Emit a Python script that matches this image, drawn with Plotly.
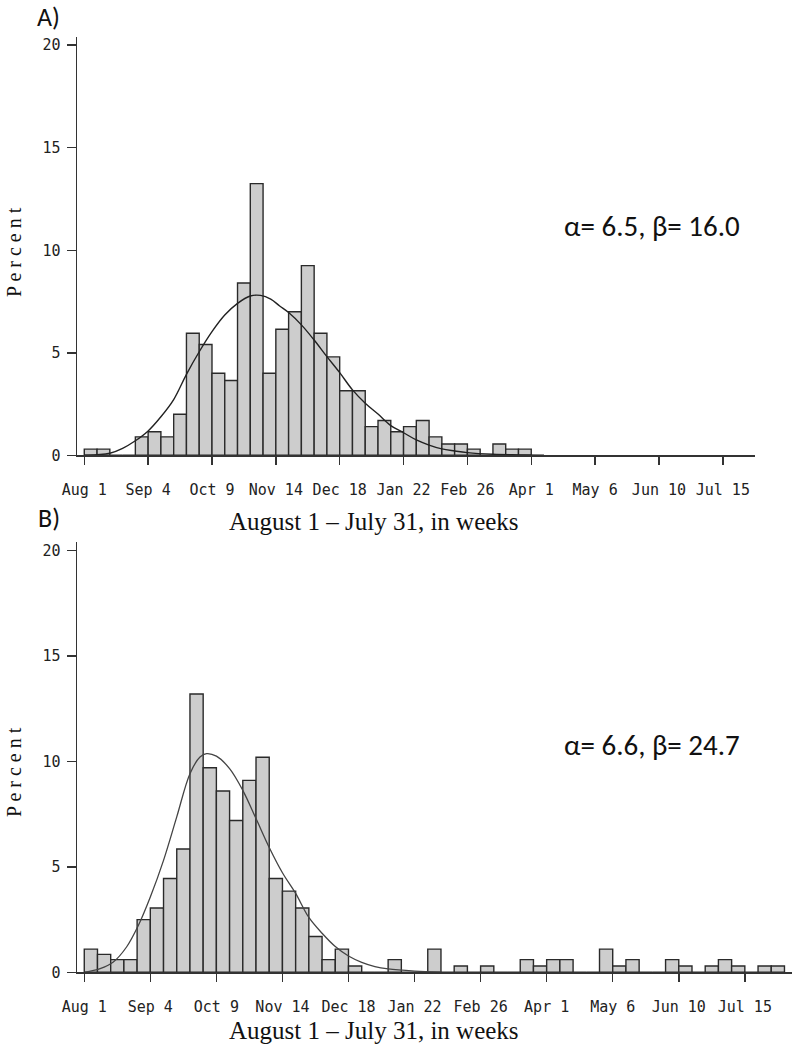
import plotly.graph_objects as go

# ---------------- data ----------------
week_tickvals = [0, 5, 10, 15, 20, 25, 30, 35, 40, 45, 50]
week_ticktext = ["Aug 1", "Sep 4", "Oct 9", "Nov 14", "Dec 18", "Jan 22",
                 "Feb 26", "Apr 1", "May 6", "Jun 10", "Jul 15"]
pct_tickvals = [0, 5, 10, 15, 20]

# Panel A: weekly percentages (week 0 = Aug 1)
pct_A = [0.3, 0.3, 0, 0, 0.9, 1.15, 0.9, 2.0, 5.95, 5.4,
         4.0, 3.65, 8.4, 13.25, 4.0, 6.15, 7.0, 9.25, 5.95, 4.8,
         3.15, 3.15, 1.4, 1.7, 1.15, 1.4, 1.7, 0.9, 0.55, 0.55,
         0.3, 0, 0.55, 0.3, 0.3]
# fitted curve A
curve_A_x = [0, 1, 2, 3, 4, 5, 6, 7, 8, 9, 10, 11, 12, 13, 13.8, 14.6, 15.3,
             16, 17, 18, 19, 20, 21, 22, 23, 24, 25, 26, 27, 28, 29, 30, 32, 34, 36]
curve_A_y = [0, 0.03, 0.1, 0.34, 0.71, 1.19, 1.88, 2.72, 3.95, 5.05, 6.03, 6.84, 7.41,
             7.77, 7.8, 7.62, 7.28, 6.96, 6.36, 5.62, 4.81, 4.03, 3.19, 2.54, 2.01,
             1.45, 1.1, 0.75, 0.5, 0.31, 0.21, 0.13, 0.05, 0.02, 0]

# Panel B
pct_B = [1.1, 0.85, 0.6, 0.6, 2.5, 3.05, 4.45, 5.85, 13.2, 9.7,
         8.6, 7.2, 9.1, 10.2, 4.45, 3.85, 3.05, 1.7, 0.6, 1.1,
         0.3, 0, 0, 0.6, 0, 0, 1.1, 0, 0.3, 0,
         0.3, 0, 0, 0.6, 0.3, 0.6, 0.6, 0, 0, 1.1,
         0.3, 0.6, 0, 0, 0.6, 0.3, 0, 0.3, 0.6, 0.3,
         0, 0.3, 0.3]
curve_B_x = [0, 1.2, 2.2, 3.2, 4.1, 5, 6, 7, 8, 8.76, 9.26, 10, 11, 12, 13, 14, 15,
             16, 17, 18, 19, 20, 21, 22, 23, 25, 27]
curve_B_y = [0, 0.17, 0.49, 1.2, 2.23, 3.57, 5.31, 7.37, 9.42, 10.21, 10.37, 10.25,
             9.66, 8.63, 7.29, 5.92, 4.72, 3.74, 2.6, 1.85, 1.22, 0.77, 0.47, 0.27,
             0.16, 0.06, 0.01]

label_A = "α= 6.5, β= 16.0"
label_B = "α= 6.6, β= 24.7"

# ---------------- figure ----------------
W, H = 792, 1050
def fx(p):
    return p / W
def fy(p):
    return 1 - p / H

bar_fill = "#cdcdcd"
edge = "#2a2a2a"
tick_font = dict(family="DejaVu Sans Mono, Liberation Mono, monospace",
                 size=15, color="#222")

fig = go.Figure()
fig.add_trace(go.Bar(x=[i + 0.5 for i in range(len(pct_A))], y=pct_A, width=1,
                     marker=dict(color=bar_fill, line=dict(color=edge, width=1.4)),
                     xaxis="x", yaxis="y", showlegend=False, hoverinfo="skip"))
fig.add_trace(go.Scatter(x=curve_A_x, y=curve_A_y, mode="lines",
                         line=dict(color="#222", width=1.4, shape="spline"),
                         xaxis="x", yaxis="y", showlegend=False, hoverinfo="skip"))
fig.add_trace(go.Bar(x=[i + 0.5 for i in range(len(pct_B))], y=pct_B, width=1,
                     marker=dict(color=bar_fill, line=dict(color=edge, width=1.4)),
                     xaxis="x2", yaxis="y2", showlegend=False, hoverinfo="skip"))
fig.add_trace(go.Scatter(x=curve_B_x, y=curve_B_y, mode="lines",
                         line=dict(color="#444", width=1.3, shape="spline"),
                         xaxis="x2", yaxis="y2", showlegend=False, hoverinfo="skip"))

xcommon = dict(tickvals=week_tickvals, ticktext=week_ticktext, ticks="outside",
               ticklen=8, tickwidth=1.5, tickcolor="#333", showline=True,
               linecolor="#333", linewidth=1.5, showgrid=False, zeroline=False,
               tickfont=tick_font, ticklabelstandoff=12, fixedrange=True,
               automargin=False)
ycommon = dict(tickvals=pct_tickvals, ticks="outside", ticklen=9, tickwidth=1.5,
               tickcolor="#333", showline=True, linecolor="#333", linewidth=1.5,
               showgrid=False, zeroline=False, tickfont=tick_font,
               ticklabelstandoff=3, fixedrange=True, automargin=False)

fig.update_layout(
    width=W, height=H, margin=dict(l=0, r=0, t=0, b=0, autoexpand=False),
    paper_bgcolor="white", plot_bgcolor="white", bargap=0,
    xaxis=dict(domain=[fx(77), fx(755)], range=[-0.57, 52.52], anchor="y", **xcommon),
    yaxis=dict(domain=[fy(455.3), fy(37)], range=[0, 20.4], anchor="x", **ycommon),
    xaxis2=dict(domain=[fx(77), 1.0], range=[-0.55, 53.57], anchor="y2", **xcommon),
    yaxis2=dict(domain=[fy(972.3), fy(541.7)], range=[0, 20.42], anchor="x2", **ycommon),
)

serif = "Liberation Serif, Times New Roman, serif"
sans = "Carlito, Noto Sans, Open Sans, sans-serif"
ann = [
    dict(text="A)", x=fx(36), y=1.0, xanchor="left", yanchor="top",
         font=dict(family=sans, size=26, color="#111"), borderpad=0),
    dict(text="B)", x=fx(37), y=fy(518), xanchor="left", yanchor="middle",
         font=dict(family=sans, size=26, color="#111"), borderpad=0),
    dict(text=label_A, x=fx(562), y=fy(226), xanchor="left", yanchor="middle",
         font=dict(family=sans, size=29, color="#111")),
    dict(text=label_B, x=fx(562), y=fy(745), xanchor="left", yanchor="middle",
         font=dict(family=sans, size=29, color="#111")),
    dict(text="August 1 – July 31, in weeks", x=fx(374), y=fy(521), xanchor="center",
         yanchor="middle", font=dict(family=serif, size=25, color="#111")),
    dict(text="August 1 – July 31, in weeks", x=fx(374), y=fy(1030), xanchor="center",
         yanchor="middle", font=dict(family=serif, size=25, color="#111")),
    dict(text="P e r c e n t", x=fx(14), y=fy(252), xanchor="center", yanchor="middle",
         textangle=-90, font=dict(family=serif, size=20, color="#111"), borderpad=0),
    dict(text="P e r c e n t", x=fx(14), y=fy(772), xanchor="center", yanchor="middle",
         textangle=-90, font=dict(family=serif, size=20, color="#111"), borderpad=0),
]
for a in ann:
    a.update(xref="paper", yref="paper", showarrow=False)
fig.update_layout(annotations=ann)

# remove the default 8px page margin so the figure sits at the window origin
fig.write_html("out.html", config={"displayModeBar": False, "staticPlot": True},
               post_script="document.body.style.margin='0';")
